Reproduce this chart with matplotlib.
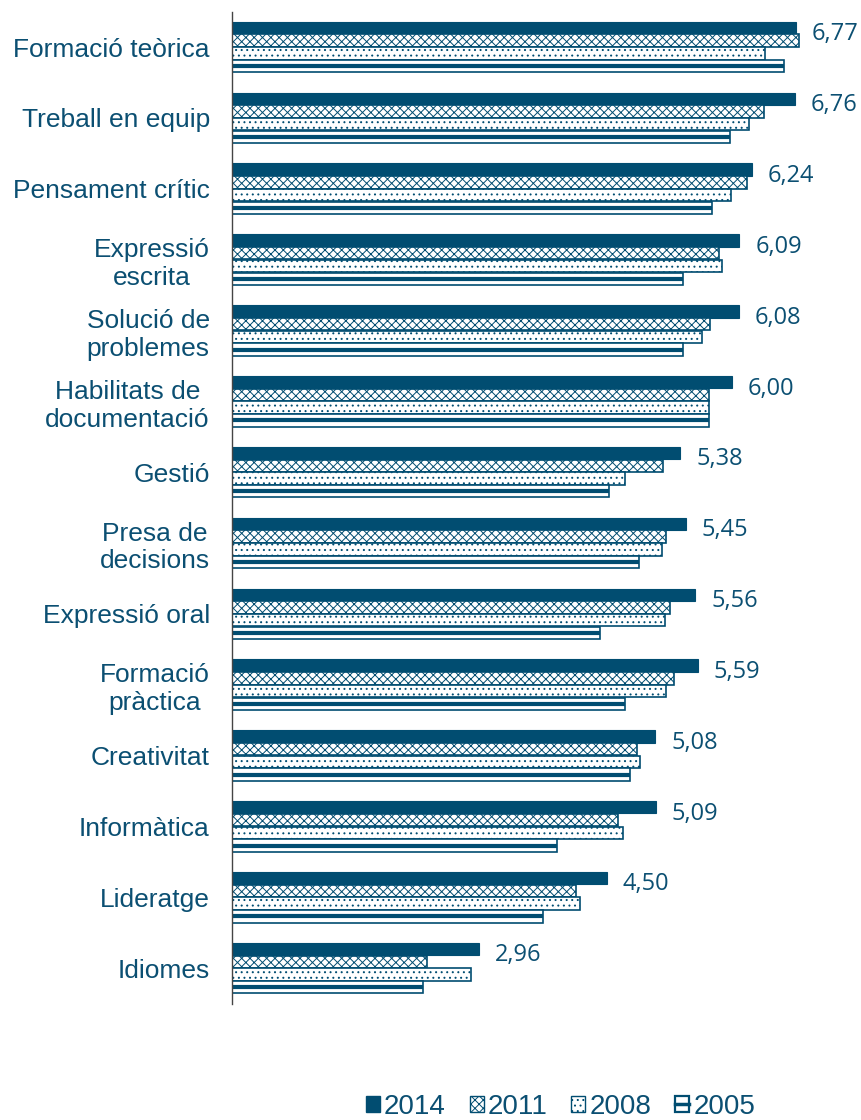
import numpy as np
import matplotlib.pyplot as plt
from matplotlib.patches import Patch, Rectangle
from matplotlib.lines import Line2D

categories = ['Formació teòrica', 'Treball en equip', 'Pensament crític',
              'Expressió\nescrita', 'Solució de\nproblemes', 'Habilitats de\ndocumentació',
              'Gestió', 'Presa de\ndecisions', 'Expressió oral', 'Formació\npràctica',
              'Creativitat', 'Informàtica', 'Lideratge', 'Idiomes']

v2014 = [6.77, 6.76, 6.24, 6.09, 6.08, 6.00, 5.38, 5.45, 5.56, 5.59, 5.08, 5.09, 4.50, 2.96]
v2011 = [6.81, 6.39, 6.18, 5.85, 5.74, 5.73, 5.17, 5.21, 5.26, 5.31, 4.86, 4.63, 4.13, 2.34]
v2008 = [6.40, 6.21, 5.99, 5.88, 5.64, 5.73, 4.72, 5.16, 5.20, 5.21, 4.90, 4.69, 4.18, 2.87]
v2005 = [6.63, 5.98, 5.76, 5.41, 5.41, 5.73, 4.53, 4.89, 4.42, 4.72, 4.78, 3.90, 3.73, 2.29]

labels_2014 = ['6,77', '6,76', '6,24', '6,09', '6,08', '6,00', '5,38', '5,45', '5,56', '5,59',
               '5,08', '5,09', '4,50', '2,96']

navy = '#014d71'
txt = '#0b4f72'
plt.rcParams['hatch.color'] = navy
plt.rcParams['hatch.linewidth'] = 0.7


class Handler2005:
    # white box with a dark stripe through the middle
    def legend_artist(self, legend, orig_handle, fontsize, handlebox):
        x0, y0 = -handlebox.xdescent, -handlebox.ydescent
        w, hh = handlebox.width, handlebox.height
        tr = handlebox.get_transform()
        r = Rectangle((x0, y0), w, hh, facecolor='white', edgecolor=navy, lw=1.6, transform=tr)
        ln = Line2D([x0, x0 + w], [y0 + hh / 2] * 2, color=navy, lw=2.5, transform=tr)
        handlebox.add_artist(r)
        handlebox.add_artist(ln)
        return r


fig = plt.figure(figsize=(8.61, 11.2), dpi=100)
ax = fig.add_axes([0.2695, 0.104, 0.7305, 0.8856])

y = np.arange(len(categories))
h = 0.175
step = 0.18

ax.barh(y - 1.5 * step, v2014, height=h, color=navy, edgecolor=navy, lw=0.8)
ax.barh(y - 0.5 * step, v2011, height=h, color='white', edgecolor=navy, hatch='xxxx', lw=1.2)
ax.barh(y + 0.5 * step, v2008, height=h, color='white', edgecolor=navy, hatch='...', lw=1.2)
ax.barh(y + 1.5 * step, v2005, height=h, color='white', edgecolor=navy, lw=1.2)
ax.hlines(y + 1.5 * step, 0, v2005, color=navy, lw=3)

for yi, v, s in zip(y, v2014, labels_2014):
    ax.text(v + 0.19, yi - 1.5 * step + 0.09, s, va='center', ha='left',
            fontsize=17, color=txt, family='Open Sans')

ax.set_xlim(0, 7.55)
ax.set_ylim(13.5, -0.5)
ax.set_yticks(y)
ax.set_yticklabels(categories, fontsize=19, color=txt, family='Liberation Sans',
                   multialignment='center')
ax.tick_params(axis='y', length=0, pad=16)
ax.set_xticks([])
for s in ['top', 'right', 'bottom']:
    ax.spines[s].set_visible(False)
ax.spines['left'].set_color('#444444')
ax.spines['left'].set_linewidth(1)

handles = [Patch(facecolor=navy, edgecolor=navy),
           Patch(facecolor='white', edgecolor=navy, hatch='xxxx'),
           Patch(facecolor='white', edgecolor=navy, hatch='...'),
           Patch(facecolor='white', edgecolor=navy)]
fig.legend(handles, ['2014', '2011', '2008', '2005'], loc='center', ncol=4,
           bbox_to_anchor=(0.651, 0.012), frameon=False,
           prop={'family': 'Liberation Sans', 'size': 20}, labelcolor=txt,
           handlelength=0.5, handleheight=0.5, handletextpad=0.15, columnspacing=0.86,
           handler_map={handles[3]: Handler2005()})

fig.savefig('out.png', dpi=100)
